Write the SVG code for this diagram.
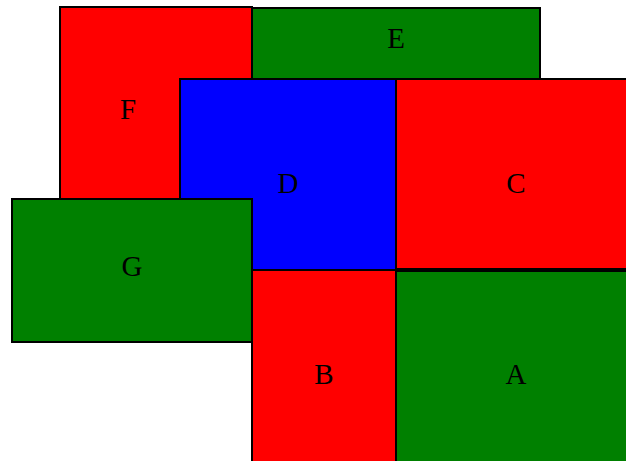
<svg xmlns="http://www.w3.org/2000/svg" width="626" height="461" viewBox="0 0 626 461">
<style>
rect{stroke:#000;stroke-width:2}
.r{fill:#ff0000}.g{fill:#008000}.b{fill:#0000ff}
text{font-family:"Liberation Serif","Times New Roman",serif;font-size:29px;fill:#000;text-anchor:middle}
</style>
<g id="F"><rect class="r" x="60" y="7" width="192" height="192"/><text x="128" y="119">F</text></g>
<g id="E"><rect class="g" x="252" y="8" width="288" height="71"/><text x="396" y="48">E</text></g>
<g id="D"><rect class="b" x="180" y="79" width="216" height="191"/><text x="288" y="193">D</text></g>
<g id="C"><rect class="r" x="396" y="79" width="240" height="190"/><text x="516" y="193">C</text></g>
<g id="G"><rect class="g" x="12" y="199" width="240" height="143"/><text x="132" y="276">G</text></g>
<g id="B"><rect class="r" x="252" y="270" width="144" height="200"/><text x="324" y="384">B</text></g>
<g id="A"><rect class="g" x="396" y="271" width="240" height="200"/><text x="516" y="384">A</text></g>
<g id="connectors"/>
</svg>
